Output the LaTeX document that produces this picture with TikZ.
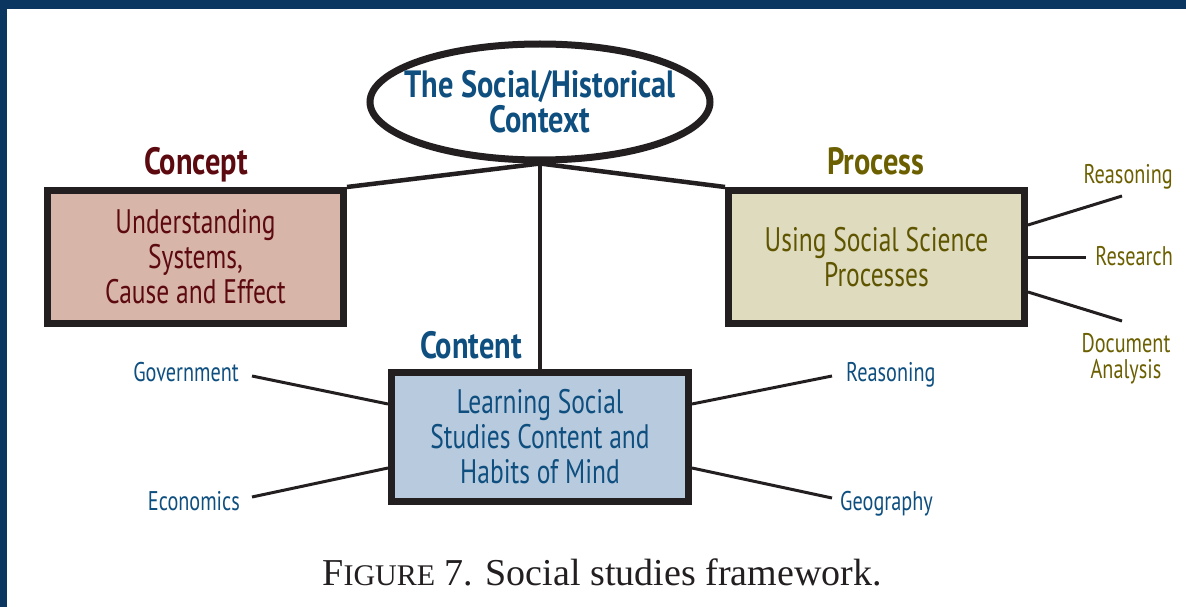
\documentclass[tikz,border=0pt]{standalone}
\usepackage{fontspec}
\setmainfont{Liberation Serif}
\newfontfamily\dfont{PT Sans}[FakeStretch=0.75]
\newfontfamily\dbold{PT Sans}[FakeStretch=0.80]
\usetikzlibrary{shapes.geometric}
\definecolor{bgblue}{HTML}{0B3660}
\definecolor{edge}{HTML}{231F20}
\definecolor{cred}{HTML}{5C0A10}
\definecolor{cfill}{HTML}{D8B5A9}
\definecolor{polive}{HTML}{6B5F00}
\definecolor{ptext}{HTML}{5F5500}
\definecolor{pfill}{HTML}{DEDBBE}
\definecolor{navy}{HTML}{0E4F80}
\definecolor{nfill}{HTML}{B8CADD}
\newcommand\fakesc[1]{{\fontsize{30}{30}\selectfont #1}}
\begin{document}
\begin{tikzpicture}[x=1pt,y=-1pt,
  boxst/.style={draw=edge, line width=7pt, minimum width=296pt, inner sep=0pt, align=center,
    font=\dfont\fontsize{34}{35}\selectfont},
  headst/.style={font=\dbold\bfseries\fontsize{38}{38}\selectfont, inner sep=0pt, anchor=base},
  labst/.style={font=\dfont\fontsize{27}{26}\selectfont, inner sep=0pt, align=center},
  conn/.style={draw=edge, line width=4.5pt},
  tick/.style={draw=edge, line width=3pt}]
\fill[bgblue] (0,0) rectangle (1186,607);
\fill[white] (7,9) rectangle (1186,607);
\useasboundingbox (0,0) rectangle (1186,607);

% main nodes
\node[ellipse, draw=edge, fill=white, line width=7pt, minimum width=340pt, minimum height=116pt,
  inner xsep=-60pt, inner ysep=-10pt, align=center, text=navy,
  font=\dbold\bfseries\fontsize{38}{35}\selectfont] (ctx) at (540,102) {The Social/Historical\\Context};
\node[boxst, fill=cfill, text=cred, minimum height=133pt] (concept) at (195.5,257)
  {Understanding\\Systems,\\Cause and Effect};
\node[boxst, fill=pfill, text=ptext, minimum height=133pt] (process) at (876.5,257)
  {Using Social Science\\Processes};
\node[boxst, fill=nfill, text=navy, minimum width=297pt, minimum height=129pt] (content) at (540,437)
  {Learning Social\\Studies Content and\\Habits of Mind};

% headings
\node[headst, text=cred] (hconcept) at (196,175) {Concept};
\node[headst, text=polive] (hprocess) at (876,175) {Process};
\node[headst, text=navy] (hcontent) at (471,358) {Content};

% connectors from context
\draw[conn] (ctx.south) -- (concept.north east);
\draw[conn] (ctx.south) -- (process.north west);
\draw[conn] (ctx.south) -- (content.north);

% content labels
\node[labst, text=navy, anchor=base east] (gov) at (239,381) {Government};
\node[labst, text=navy, anchor=base east] (eco) at (240,510) {Economics};
\node[labst, text=navy, anchor=base west] (rea) at (846,381) {Reasoning};
\node[labst, text=navy, anchor=base west] (geo) at (840,510) {Geography};
\coordinate (govend) at (252,376);
\coordinate (ecoend) at (252,497);
\coordinate (reaend) at (832,376);
\coordinate (geoend) at (832,498);
\draw[tick] (govend) -- ([yshift=33pt]content.west);
\draw[tick] (ecoend) -- ([yshift=-31pt]content.west);
\draw[tick] ([yshift=33pt]content.east) -- (reaend);
\draw[tick] ([yshift=-31pt]content.east) -- (geoend);

% process labels
\node[labst, text=polive, anchor=base east] (preas) at (1173,183) {Reasoning};
\node[labst, text=polive, anchor=base east] (pres) at (1173,265) {Research};
\node[labst, text=polive, anchor=north] (pdoc) at (1126,333) {Document\\Analysis};
\coordinate (preasend) at (1122,196);
\coordinate (presend) at (1086,257);
\coordinate (pdocend) at (1122,321);
\draw[tick] ([yshift=32pt]process.east) -- (preasend);
\draw[tick] (process.east) -- (presend);
\draw[tick] ([yshift=-35pt]process.east) -- (pdocend);

% caption
\node[anchor=base, inner sep=0pt, text=edge, font=\fontsize{38}{40}\selectfont] (cap) at (602,585)
  {F\fakesc{IGURE} 7. Social studies framework.};
\end{tikzpicture}
\end{document}
